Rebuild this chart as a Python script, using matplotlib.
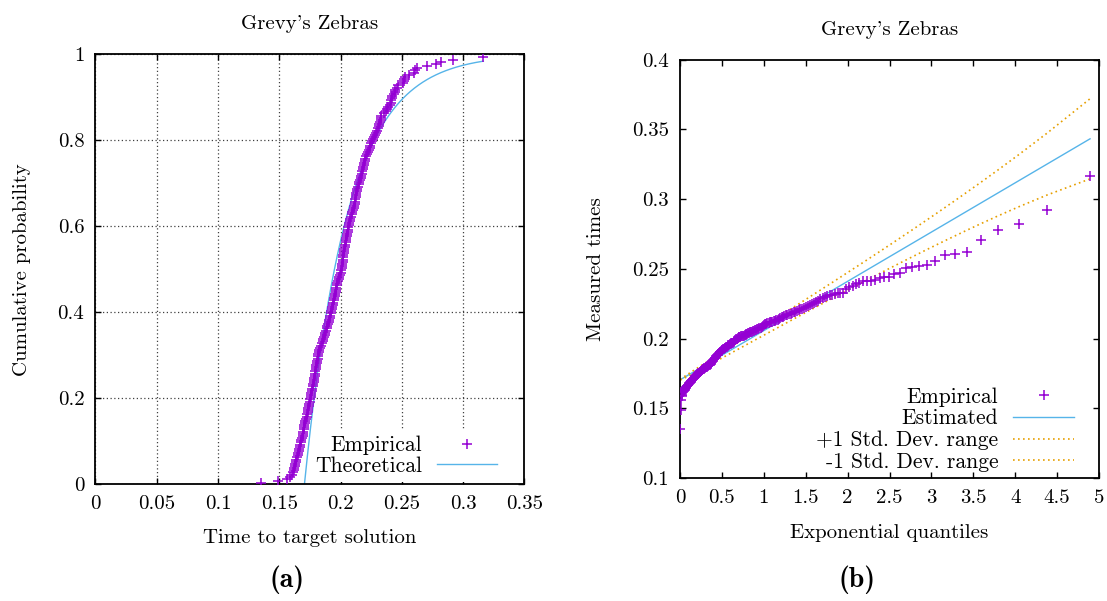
import numpy as np
import matplotlib
matplotlib.use("Agg")
import matplotlib.pyplot as plt
from matplotlib.lines import Line2D

plt.rcParams['font.family'] = ['cmr10', 'DejaVu Serif']
plt.rcParams['axes.unicode_minus'] = False
plt.rcParams['axes.formatter.use_mathtext'] = True

# sorted run times (s) of the instance, fastest first
n_runs = 200
times = [
    0.1350, 0.1490, 0.1560, 0.1588, 0.1600, 0.1610, 0.1616, 0.1622, 0.1626, 0.1630,
    0.1635, 0.1640, 0.1645, 0.1649, 0.1654, 0.1658, 0.1662, 0.1667, 0.1671, 0.1675,
    0.1680, 0.1685, 0.1690, 0.1693, 0.1696, 0.1699, 0.1702, 0.1705, 0.1709, 0.1713,
    0.1717, 0.1722, 0.1726, 0.1730, 0.1734, 0.1738, 0.1741, 0.1745, 0.1748, 0.1752,
    0.1755, 0.1759, 0.1762, 0.1766, 0.1769, 0.1773, 0.1776, 0.1780, 0.1783, 0.1786,
    0.1789, 0.1792, 0.1795, 0.1797, 0.1800, 0.1803, 0.1806, 0.1809, 0.1812, 0.1815,
    0.1818, 0.1821, 0.1825, 0.1833, 0.1840, 0.1847, 0.1853, 0.1859, 0.1864, 0.1869,
    0.1875, 0.1880, 0.1886, 0.1892, 0.1898, 0.1904, 0.1908, 0.1912, 0.1916, 0.1920,
    0.1924, 0.1928, 0.1932, 0.1936, 0.1940, 0.1944, 0.1949, 0.1953, 0.1956, 0.1959,
    0.1962, 0.1966, 0.1969, 0.1972, 0.1978, 0.1984, 0.1990, 0.1996, 0.2001, 0.2005,
    0.2010, 0.2012, 0.2014, 0.2016, 0.2018, 0.2020, 0.2022, 0.2025, 0.2028, 0.2031,
    0.2035, 0.2038, 0.2042, 0.2045, 0.2048, 0.2051, 0.2054, 0.2057, 0.2060, 0.2063,
    0.2066, 0.2069, 0.2074, 0.2080, 0.2086, 0.2091, 0.2097, 0.2102, 0.2108, 0.2111,
    0.2114, 0.2117, 0.2120, 0.2123, 0.2126, 0.2129, 0.2132, 0.2137, 0.2142, 0.2147,
    0.2152, 0.2157, 0.2163, 0.2168, 0.2172, 0.2176, 0.2180, 0.2184, 0.2188, 0.2192,
    0.2196, 0.2203, 0.2210, 0.2216, 0.2223, 0.2230, 0.2236, 0.2242, 0.2249, 0.2255,
    0.2264, 0.2273, 0.2282, 0.2291, 0.2297, 0.2303, 0.2310, 0.2315, 0.2320, 0.2327,
    0.2329, 0.2331, 0.2356, 0.2368, 0.2380, 0.2390, 0.2399, 0.2413, 0.2415, 0.2416,
    0.2418, 0.2435, 0.2440, 0.2442, 0.2463, 0.2468, 0.2506, 0.2516, 0.2521, 0.2528,
    0.2557, 0.2597, 0.2607, 0.2623, 0.2704, 0.2781, 0.2822, 0.2920, 0.3164,
]

# fitted shifted exponential: location and scale
mu = 0.1705
lam = 0.0353

title = "Grevy's Zebras"
xticks_a = [0, 0.05, 0.1, 0.15, 0.2, 0.25, 0.3, 0.35]
xticklabels_a = ['0', '0.05', '0.1', '0.15', '0.2', '0.25', '0.3', '0.35']
yticks_a = [0, 0.2, 0.4, 0.6, 0.8, 1]
yticklabels_a = ['0', '0.2', '0.4', '0.6', '0.8', '1']
xticks_b = [0, 0.5, 1, 1.5, 2, 2.5, 3, 3.5, 4, 4.5, 5]
xticklabels_b = ['0', '0.5', '1', '1.5', '2', '2.5', '3', '3.5', '4', '4.5', '5']
yticks_b = [0.1, 0.15, 0.2, 0.25, 0.3, 0.35, 0.4]
yticklabels_b = ['0.1', '0.15', '0.2', '0.25', '0.3', '0.35', '0.4']

purple = '#9400d3'
blue = '#56b4e9'
orange = '#e69f00'

t = np.array(times)
rank = np.arange(1, len(t) + 1)
prob = (rank - 0.5) / n_runs
quant = -np.log(1 - prob)
fit = mu + lam * quant
sd = lam * np.sqrt(prob / ((1 - prob) * n_runs))

fig = plt.figure(figsize=(11.07, 6.01), dpi=100)
ax1 = fig.add_axes([0.0862, 0.1942, 0.3876, 0.7155])
ax2 = fig.add_axes([0.6143, 0.2042, 0.3785, 0.6967])

fs = 15
lfs = 15.5

def style(ax):
    for s in ax.spines.values():
        s.set_linewidth(1.3)
    ax.tick_params(direction='in', length=4, width=1.0, top=True, right=True,
                   labelsize=fs, pad=8)

# (a) cumulative distribution
tt = np.linspace(mu, t.max(), 300)
ax1.plot(t, prob, linestyle='none', marker='+', color=purple, markersize=6.5,
         markeredgewidth=1.1, label='Empirical', zorder=3)
ax1.plot(tt, 1 - np.exp(-(tt - mu) / lam), color=blue, lw=1.0,
         label='Theoretical', zorder=2)
ax1.set_xlim(0, 0.35)
ax1.set_ylim(0, 1)
ax1.set_xticks(xticks_a)
ax1.set_xticklabels(xticklabels_a)
ax1.set_yticks(yticks_a)
ax1.set_yticklabels(yticklabels_a)
ax1.grid(True, color='0.25', linestyle=(0, (1, 2)), linewidth=0.9)
ax1.set_axisbelow(True)
style(ax1)
ax1.set_xlabel('Time to target solution', fontsize=fs)
ax1.set_ylabel('Cumulative probability', fontsize=fs)
ax1.xaxis.set_label_coords(0.5, -0.105)
ax1.yaxis.set_label_coords(-0.151, 0.5)
ax1.set_title(title, fontsize=fs, pad=18)
# white key box hides the grid but stays under the curves
leg1 = ax1.legend(loc='lower right', bbox_to_anchor=(0.952, 0.005),
                  markerfirst=False, fontsize=lfs, handlelength=2.8,
                  handletextpad=0.7, labelspacing=0.05, borderaxespad=0,
                  borderpad=0.3, frameon=True, fancybox=False)
leg1.get_frame().set_edgecolor('none')
leg1.get_frame().set_facecolor('white')
leg1.get_frame().set_alpha(1)
leg1.set_zorder(1.5)

# (b) QQ plot against exponential quantiles
ax2.plot(quant, t, linestyle='none', marker='+', color=purple, markersize=6.5,
         markeredgewidth=1.1, zorder=3)
ax2.plot(quant, fit, color=blue, lw=1.0, zorder=2)
ax2.plot(quant, fit + sd, color=orange, lw=1.2, linestyle=(0, (1, 2)), zorder=2)
ax2.plot(quant, fit - sd, color=orange, lw=1.2, linestyle=(0, (1, 2)), zorder=2)
ax2.set_xlim(0, 5)
ax2.set_ylim(0.1, 0.4)
ax2.set_xticks(xticks_b)
ax2.set_xticklabels(xticklabels_b)
ax2.set_yticks(yticks_b)
ax2.set_yticklabels(yticklabels_b)
style(ax2)
ax2.set_xlabel('Exponential quantiles', fontsize=fs)
ax2.set_ylabel('Measured times', fontsize=fs)
ax2.xaxis.set_label_coords(0.5, -0.109)
ax2.yaxis.set_label_coords(-0.179, 0.5)
ax2.set_title(title, fontsize=fs, pad=18)
handles = [
    Line2D([], [], linestyle='none', marker='+', color=purple, markersize=6.5, markeredgewidth=1.1),
    Line2D([], [], color=blue, lw=1.0),
    Line2D([], [], color=orange, lw=1.2, linestyle=(0, (1, 2))),
    Line2D([], [], color=orange, lw=1.2, linestyle=(0, (1, 2))),
]
labels = ['Empirical', 'Estimated', '+1 Std. Dev. range', '-1 Std. Dev. range']
leg2 = ax2.legend(handles, labels, loc='lower right', bbox_to_anchor=(0.955, 0.0),
                  markerfirst=False, fontsize=lfs, handlelength=2.8,
                  handletextpad=0.7, labelspacing=0.1, borderaxespad=0,
                  borderpad=0.3, frameon=False)

fig.text(287 / 1107, 1 - 580 / 601, '(a)', family='cmb10', fontsize=20,
         ha='center', va='center')
fig.text(857 / 1107, 1 - 580 / 601, '(b)', family='cmb10', fontsize=20,
         ha='center', va='center')

fig.savefig('out.png', dpi=100)
